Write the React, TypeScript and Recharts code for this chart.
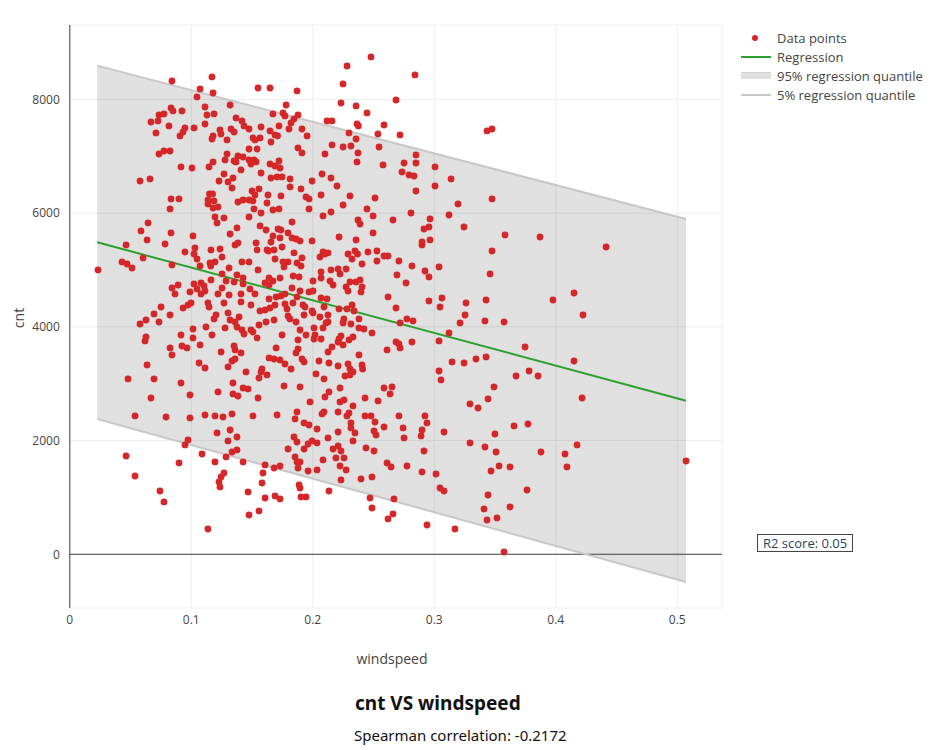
import React from "react";
import {
  ComposedChart,
  Scatter,
  Line,
  Area,
  XAxis,
  YAxis,
  CartesianGrid,
  ReferenceLine,
} from "recharts";

// [windspeed, cnt] pairs
const ptsLeft: [number, number][] = [
  [0.0734, 7727], [0.0775, 7745], [0.0668, 7604], [0.0726, 7622], [0.0709, 7411], [0.0734, 7041], [0.0775, 7094], [0.0578, 6566], [0.066, 6602], [0.0644, 5828],
  [0.0586, 5687], [0.0636, 5529], [0.0463, 5441], [0.0784, 5458], [0.0603, 5212], [0.043, 5142], [0.0471, 5106], [0.0512, 5036], [0.0232, 5001], [0.0751, 4350],
  [0.0693, 4227], [0.0825, 4209], [0.0578, 4051], [0.0627, 4121], [0.0734, 4086], [0.0627, 3822], [0.0619, 3752], [0.0825, 3629], [0.0636, 3330], [0.0479, 3084],
  [0.0693, 3084], [0.0668, 2749], [0.0537, 2433], [0.0792, 2415], [0.0463, 1729], [0.0537, 1377], [0.0742, 1113], [0.0775, 920],
];

const ptsMidLeftTop: [number, number][] = [
  [0.0841, 8325], [0.117, 8396], [0.1072, 8185], [0.1179, 8114], [0.1047, 8044], [0.1319, 7903], [0.1113, 7868], [0.0833, 7850], [0.0849, 7798], [0.0923, 7798],
  [0.1129, 7727], [0.1187, 7745], [0.1368, 7675], [0.1417, 7622], [0.1113, 7569], [0.0816, 7534], [0.0948, 7499], [0.1023, 7499], [0.1434, 7534], [0.1236, 7463],
  [0.1327, 7481], [0.1352, 7428], [0.0932, 7428], [0.0907, 7358], [0.1179, 7358], [0.117, 7305], [0.1244, 7393], [0.1294, 7288], [0.0825, 7094], [0.1294, 7041],
  [0.1384, 7006], [0.1426, 6988], [0.1278, 6936], [0.1352, 6918], [0.1368, 6901], [0.1179, 6901], [0.0915, 6813], [0.1006, 6795], [0.1146, 6813], [0.1409, 6760],
  [0.1269, 6689], [0.1228, 6566], [0.1302, 6549], [0.1343, 6619], [0.1335, 6443], [0.115, 6338], [0.1175, 6338], [0.1137, 6232], [0.1187, 6215], [0.1137, 6162],
  [0.1179, 6091], [0.122, 6109], [0.1384, 6197], [0.1426, 6232], [0.0833, 6250], [0.0899, 6250], [0.0825, 6074], [0.1195, 5933], [0.1269, 5916], [0.1212, 5828],
  [0.1376, 5740], [0.0833, 5652], [0.1014, 5599], [0.1319, 5634], [0.1384, 5476], [0.136, 5441], [0.0948, 5317], [0.103, 5388], [0.1022, 5282], [0.1162, 5353],
  [0.1236, 5370], [0.1047, 5194], [0.1253, 5229], [0.1072, 5071], [0.1154, 5124], [0.116, 5071], [0.1195, 5142], [0.1311, 5036], [0.1417, 5142], [0.0841, 5089],
  [0.1253, 4931], [0.1376, 4913], [0.1426, 4860], [0.1286, 4807], [0.1352, 4790], [0.0841, 4684], [0.0891, 4737], [0.0866, 4579], [0.1022, 4755], [0.108, 4772],
  [0.1105, 4719], [0.1113, 4631], [0.1047, 4667], [0.108, 4579], [0.0989, 4614], [0.1162, 4825], [0.122, 4579], [0.1253, 4684], [0.1311, 4561], [0.1409, 4579],
  [0.1426, 4755], [0.0998, 4420], [0.1137, 4420], [0.1269, 4420], [0.1409, 4438],
];

const ptsMidLeftBottom: [number, number][] = [
  [0.0932, 4332], [0.0973, 4385], [0.1146, 4350], [0.1203, 4209], [0.1187, 4139], [0.1302, 4245], [0.1393, 4174], [0.1319, 4121], [0.136, 4086], [0.1014, 3963],
  [0.1121, 3998], [0.1278, 3981], [0.1376, 3998], [0.1417, 3945], [0.1434, 3875], [0.0915, 3857], [0.1014, 3805], [0.117, 3857], [0.0841, 3506], [0.0923, 3664],
  [0.0965, 3629], [0.1072, 3682], [0.1245, 3558], [0.1352, 3664], [0.136, 3594], [0.1409, 3541], [0.1064, 3365], [0.1113, 3277], [0.1302, 3295], [0.1335, 3400],
  [0.136, 3435], [0.145, 3207], [0.0915, 3013], [0.0989, 2802], [0.122, 2855], [0.1343, 3013], [0.1426, 2925], [0.1343, 2820], [0.1384, 2784], [0.0989, 2398],
  [0.1113, 2450], [0.1195, 2433], [0.1261, 2415], [0.1335, 2468], [0.1319, 2186], [0.1212, 2134], [0.1376, 2063], [0.1302, 1993], [0.0973, 2011], [0.0948, 1923],
  [0.1335, 1799], [0.1376, 1835], [0.1286, 1712], [0.1088, 1764], [0.0899, 1606], [0.1195, 1624], [0.1426, 1624], [0.1269, 1430], [0.1245, 1360], [0.1228, 1272],
  [0.1236, 1184], [0.1137, 445],
];

const ptsCenterTop: [number, number][] = [
  [0.1549, 8202], [0.1648, 8202], [0.187, 8150], [0.178, 7903], [0.1672, 7745], [0.1755, 7763], [0.1771, 7710], [0.1878, 7727], [0.1845, 7657], [0.1821, 7587],
  [0.2117, 7622], [0.1722, 7534], [0.1574, 7516], [0.1648, 7446], [0.1804, 7481], [0.1911, 7481], [0.1475, 7481], [0.1689, 7376], [0.171, 7360], [0.1508, 7323],
  [0.1566, 7323], [0.1524, 7288], [0.1953, 7358], [0.1656, 7252], [0.1475, 7129], [0.1541, 7129], [0.1878, 7147], [0.1911, 7059], [0.21, 7041], [0.1475, 6936],
  [0.1516, 6936], [0.1533, 6901], [0.1491, 6865], [0.1722, 6918], [0.1648, 6865], [0.1689, 6830], [0.173, 6795], [0.1574, 6707], [0.2076, 6689], [0.1656, 6619],
  [0.1706, 6637], [0.1747, 6637], [0.1813, 6602], [0.1994, 6566], [0.1813, 6461], [0.1903, 6426], [0.1557, 6426], [0.15, 6390], [0.1524, 6320], [0.1631, 6320],
  [0.1738, 6303], [0.1944, 6285], [0.1969, 6250], [0.2068, 6320], [0.1475, 6232], [0.1508, 6215], [0.1623, 6179], [0.1672, 6056], [0.1722, 6074], [0.1969, 6074],
  [0.1516, 6074], [0.1574, 6003], [0.1475, 5933], [0.2084, 5951], [0.1829, 5845], [0.1566, 5775], [0.1615, 5704], [0.1714, 5722], [0.1738, 5704], [0.1796, 5652],
  [0.1672, 5599], [0.173, 5564], [0.1829, 5564], [0.1862, 5546], [0.1895, 5511], [0.1994, 5511], [0.1656, 5493], [0.1533, 5476], [0.1747, 5405], [0.1541, 5353],
  [0.1623, 5353], [0.1681, 5353], [0.1635, 5335], [0.1845, 5300], [0.2084, 5317], [0.21, 5282], [0.2059, 5229], [0.1689, 5194], [0.1911, 5212], [0.1475, 5142],
  [0.1755, 5142], [0.1796, 5142], [0.187, 5124], [0.1903, 5071], [0.1763, 5054], [0.1549, 5001], [0.2068, 4966], [0.1838, 4895], [0.1887, 4878], [0.173, 4860],
  [0.164, 4860], [0.1672, 4807], [0.2068, 4860], [0.2002, 4807], [0.1607, 4772], [0.164, 4737], [0.1483, 4667], [0.1524, 4579], [0.1829, 4684], [0.1895, 4631],
  [0.1969, 4614], [0.2002, 4631], [0.1698, 4526], [0.1738, 4544], [0.1771, 4579], [0.187, 4526], [0.164, 4491], [0.2068, 4508], [0.2117, 4491],
];

const ptsCenterBottom: [number, number][] = [
  [0.1491, 4385], [0.1565, 4280], [0.1607, 4297], [0.1648, 4332], [0.1689, 4385], [0.1771, 4403], [0.1788, 4315], [0.1837, 4420], [0.1919, 4385], [0.1936, 4350],
  [0.2002, 4245], [0.1994, 4280], [0.2092, 4350], [0.1796, 4192], [0.1812, 4139], [0.1862, 4086], [0.1928, 4209], [0.2059, 4174], [0.2109, 4069], [0.1557, 4033],
  [0.1615, 4086], [0.1681, 4121], [0.1491, 3945], [0.1508, 3910], [0.1541, 3805], [0.1747, 3857], [0.1895, 3945], [0.1944, 3857], [0.201, 3981], [0.2018, 3857],
  [0.201, 3787], [0.2068, 3787], [0.2084, 3981], [0.1878, 3770], [0.1698, 3629], [0.1878, 3611], [0.1862, 3541], [0.164, 3453], [0.1681, 3435], [0.173, 3418],
  [0.1771, 3347], [0.1821, 3259], [0.1911, 3435], [0.1928, 3383], [0.2051, 3400], [0.1582, 3259], [0.1574, 3207], [0.1623, 3154], [0.1557, 3101], [0.2026, 3172],
  [0.2092, 3084], [0.1467, 2908], [0.1763, 2960], [0.1895, 2943], [0.21, 2767], [0.1549, 2749], [0.1977, 2679], [0.1508, 2433], [0.1706, 2450], [0.187, 2503],
  [0.1854, 2380], [0.2092, 2503], [0.2076, 2468], [0.1928, 2310], [0.1969, 2274], [0.2035, 2204], [0.1845, 2063], [0.187, 1975], [0.1796, 1852], [0.1928, 1852],
  [0.1961, 1940], [0.1994, 1993], [0.2035, 1958], [0.1854, 1712], [0.187, 1624], [0.1895, 1624], [0.1878, 1518], [0.1961, 1465], [0.2035, 1483], [0.2084, 1659],
  [0.1607, 1571], [0.1681, 1518], [0.173, 1553], [0.159, 1430], [0.1582, 1254], [0.1887, 1219], [0.1895, 1166], [0.1903, 1008], [0.1944, 1008], [0.1607, 990],
  [0.1689, 1026], [0.173, 973], [0.1467, 1096], [0.1557, 762], [0.1475, 691],
];

const ptsMidRightTop: [number, number][] = [
  [0.2479, 8748], [0.2282, 8589], [0.2249, 8273], [0.2232, 7938], [0.2356, 7886], [0.2446, 7763], [0.2685, 7991], [0.2158, 7622], [0.2364, 7569], [0.2375, 7534],
  [0.2586, 7551], [0.2298, 7411], [0.2536, 7393], [0.2718, 7376], [0.2356, 7305], [0.2158, 7200], [0.2249, 7164], [0.2314, 7182], [0.2545, 7164], [0.2372, 7059],
  [0.2364, 6901], [0.2578, 6848], [0.2751, 6883], [0.2734, 6725], [0.215, 6619], [0.2199, 6478], [0.2306, 6303], [0.2512, 6267], [0.2249, 6144], [0.2446, 6074],
  [0.215, 6021], [0.2372, 5880], [0.2389, 5810], [0.2496, 5951], [0.266, 5880], [0.2496, 5652], [0.2216, 5581], [0.2356, 5529], [0.2125, 5300], [0.229, 5282],
  [0.2347, 5335], [0.2368, 5282], [0.2454, 5317], [0.2528, 5335], [0.2323, 5194], [0.2405, 5106], [0.2528, 5159], [0.2586, 5247], [0.2619, 5247], [0.2709, 5159],
  [0.215, 5001], [0.2208, 5018], [0.2224, 4931], [0.2274, 5018], [0.2693, 4913], [0.2142, 4807], [0.2167, 4737], [0.2306, 4790], [0.2356, 4790], [0.2389, 4825],
  [0.2405, 4702], [0.2274, 4702], [0.229, 4631], [0.2397, 4614], [0.2767, 4772], [0.2619, 4526], [0.2841, 8431],
];

const ptsMidRightBottom: [number, number][] = [
  [0.2216, 4315], [0.2281, 4315], [0.2323, 4385], [0.2339, 4280], [0.2685, 4332], [0.2125, 4209], [0.2256, 4139], [0.2249, 4069], [0.2314, 4051], [0.238, 4139],
  [0.238, 3981], [0.2421, 3963], [0.2487, 3893], [0.2718, 4069], [0.2775, 4139], [0.2125, 4086], [0.2232, 3840], [0.2216, 3787], [0.2208, 3734], [0.2249, 3682],
  [0.2298, 3770], [0.2331, 3822], [0.2158, 3646], [0.2125, 3558], [0.238, 3506], [0.2611, 3594], [0.2685, 3734], [0.2709, 3699], [0.2718, 3629], [0.2133, 3365],
  [0.2208, 3312], [0.229, 3347], [0.2306, 3259], [0.2331, 3207], [0.2405, 3330], [0.241, 3259], [0.2265, 3136], [0.2306, 3154], [0.2224, 2925], [0.2586, 2925],
  [0.2652, 2943], [0.2636, 2820], [0.2133, 2855], [0.2257, 2714], [0.2224, 2679], [0.243, 2749], [0.2537, 2697], [0.2331, 2609], [0.2208, 2503], [0.2298, 2485],
  [0.2281, 2433], [0.243, 2433], [0.2479, 2433], [0.2709, 2433], [0.2314, 2310], [0.2512, 2327], [0.2314, 2222], [0.2347, 2134], [0.2208, 2151], [0.2504, 2169],
  [0.252, 2098], [0.2586, 2239], [0.2743, 2222], [0.2125, 2046], [0.2751, 2046], [0.2331, 1993], [0.2208, 1905], [0.2167, 1852], [0.2232, 1817], [0.2438, 1870],
  [0.2504, 1817], [0.219, 1694], [0.2257, 1694], [0.2224, 1553], [0.2274, 1483], [0.2611, 1606], [0.2644, 1536], [0.2775, 1553], [0.2232, 1307], [0.2397, 1325],
  [0.2487, 1360], [0.2133, 1113], [0.2471, 990], [0.2487, 814], [0.2668, 973], [0.266, 709], [0.2619, 621],
];

const ptsRight: [number, number][] = [
  [0.3434, 7446], [0.3475, 7481], [0.2849, 7024], [0.2849, 6883], [0.3006, 6813], [0.2792, 6672], [0.2833, 6654], [0.3138, 6602], [0.3006, 6478], [0.2849, 6390],
  [0.3475, 6250], [0.3195, 6162], [0.2808, 6003], [0.3121, 5968], [0.2965, 5898], [0.2915, 5722], [0.2956, 5757], [0.3244, 5757], [0.3582, 5617], [0.2899, 5493],
  [0.2899, 5441], [0.2965, 5529], [0.3475, 5335], [0.2816, 5071], [0.2923, 4983], [0.2956, 4878], [0.3039, 5054], [0.3459, 4931], [0.2956, 4456], [0.3063, 4508],
  [0.3261, 4420], [0.3426, 4473], [0.3047, 4350], [0.2825, 4104], [0.3253, 4209], [0.3212, 4069], [0.3417, 4104], [0.3574, 4086], [0.3121, 3893], [0.2816, 3734],
  [0.3039, 3752], [0.3146, 3383], [0.3245, 3365], [0.3343, 3435], [0.3426, 3471], [0.3039, 3224], [0.3055, 3066], [0.3673, 3136], [0.3491, 2943], [0.3294, 2644],
  [0.336, 2573], [0.3442, 2732], [0.2923, 2433], [0.294, 2310], [0.2899, 2186], [0.2891, 2081], [0.308, 2151], [0.3656, 2257], [0.3499, 2116], [0.3294, 1958],
  [0.3417, 1887], [0.3508, 1799], [0.2915, 1817], [0.2899, 1448], [0.3014, 1412], [0.3467, 1465], [0.3533, 1553], [0.3623, 1536], [0.3047, 1166], [0.308, 1113],
  [0.3442, 1043], [0.3409, 797], [0.3623, 832], [0.3434, 603], [0.3516, 639], [0.294, 515], [0.317, 445], [0.3574, 40],
];

const ptsFarRight: [number, number][] = [
  [0.387, 5581], [0.4414, 5405], [0.3977, 4473], [0.415, 4596], [0.4224, 4209], [0.3747, 3646], [0.415, 3400], [0.378, 3224], [0.3854, 3136], [0.4216, 2749],
  [0.3771, 2292], [0.3878, 1799], [0.4076, 1764], [0.4175, 1923], [0.4092, 1536], [0.5072, 1641], [0.3763, 1131],
];

// Regression line and quantile band, at the smallest and largest windspeed
const fitWindspeed = [0.0226, 0.5072];
const fitRegression = [5488, 2702];
const fitQ95 = [8595, 5898];
const fitQ05 = [2380, -487];

const xTicks = [0, 0.1, 0.2, 0.3, 0.4, 0.5];
const yTicks = [0, 2000, 4000, 6000, 8000];

const legendItems = ["Data points", "Regression", "95% regression quantile", "5% regression quantile"];

const allPoints = [
  ...ptsLeft,
  ...ptsMidLeftTop,
  ...ptsMidLeftBottom,
  ...ptsCenterTop,
  ...ptsCenterBottom,
  ...ptsMidRightTop,
  ...ptsMidRightBottom,
  ...ptsRight,
  ...ptsFarRight,
].map(([x, y]) => ({ x, y }));

const lineData = fitWindspeed.map((x, i) => ({
  x,
  reg: fitRegression[i],
  hi: fitQ95[i],
  lo: fitQ05[i],
  band: [fitQ05[i], fitQ95[i]],
}));

const FONT = "'Open Sans', verdana, arial, sans-serif";
const RED = "#d62728";

const Dot = (props: any) => {
  const { cx, cy } = props;
  if (cx == null || cy == null) return null;
  return <circle cx={cx} cy={cy} r={3.4} fill={RED} />;
};

export default function App() {
  return (
    <div
      style={{
        position: "fixed",
        left: 0,
        top: 0,
        width: 948,
        height: 750,
        background: "#fff",
        overflow: "hidden",
        fontFamily: FONT,
      }}
    >
      <ComposedChart
        width={948}
        height={750}
        data={lineData}
        margin={{ top: 25, right: 226, bottom: 0, left: 0 }}
      >
        <CartesianGrid stroke="#eee" strokeWidth={1} />
        <XAxis
          type="number"
          dataKey="x"
          domain={[0, 0.5368]}
          ticks={xTicks}
          allowDataOverflow
          height={142}
          axisLine={false}
          tickLine={false}
          tickMargin={1}
          tick={{ fill: "#444", fontSize: 12, fontFamily: FONT }}
          tickFormatter={(v: number) => String(v)}
        />
        <YAxis
          type="number"
          domain={[-945, 9310]}
          ticks={yTicks}
          allowDataOverflow
          width={69.8}
          axisLine={false}
          tickLine={false}
          tickMargin={4}
          tick={{ fill: "#444", fontSize: 12, fontFamily: FONT }}
        />
        <Area
          dataKey="band"
          type="linear"
          stroke="none"
          fill="#000"
          fillOpacity={0.12}
          isAnimationActive={false}
          activeDot={false}
        />
        <ReferenceLine y={0} stroke="#444" strokeWidth={1} />
        <ReferenceLine x={0} stroke="#444" strokeWidth={1} />
        <Scatter data={allPoints} dataKey="y" shape={Dot} isAnimationActive={false} />
        <Line dataKey="reg" type="linear" stroke="#2ca02c" strokeWidth={2} dot={false} activeDot={false} isAnimationActive={false} />
        <Line dataKey="hi" type="linear" stroke="#c8c8c8" strokeWidth={2} dot={false} activeDot={false} isAnimationActive={false} />
        <Line dataKey="lo" type="linear" stroke="#c8c8c8" strokeWidth={2} dot={false} activeDot={false} isAnimationActive={false} />
      </ComposedChart>

      {/* legend */}
      <div style={{ position: "absolute", left: 741, top: 29, fontSize: 13, color: "#444", fontFamily: FONT }}>
        {legendItems.map((label, i) => (
          <div key={label} style={{ position: "absolute", left: 0, top: i * 19, height: 19, width: 200, whiteSpace: "nowrap" }}>
            <div style={{ position: "absolute", left: 0, top: 0, width: 30, height: 19 }}>
              {i === 0 && (
                <div style={{ position: "absolute", left: 11, top: 6, width: 6, height: 6, borderRadius: 3, background: RED }} />
              )}
              {i === 1 && (
                <div style={{ position: "absolute", left: 0, top: 8, width: 30, height: 2, background: "#2ca02c" }} />
              )}
              {i === 2 && (
                <div style={{ position: "absolute", left: 0, top: 5, width: 30, height: 6, background: "#e0e0e0", borderTop: "1px solid #d0d0d0" }} />
              )}
              {i === 3 && (
                <div style={{ position: "absolute", left: 0, top: 8, width: 30, height: 2, background: "#c8c8c8" }} />
              )}
            </div>
            <span style={{ position: "absolute", left: 36, top: 0, lineHeight: "18px" }}>{label}</span>
          </div>
        ))}
      </div>

      {/* R2 annotation */}
      <div
        style={{
          position: "absolute",
          left: 757,
          top: 534,
          height: 16,
          padding: "0 5px",
          border: "1px solid #444",
          fontSize: 13,
          lineHeight: "16px",
          color: "#2a3f5f",
          background: "#fff",
          whiteSpace: "nowrap",
        }}
      >
        R2 score: 0.05
      </div>

      {/* axis titles */}
      <div style={{ position: "absolute", left: 292, width: 200, top: 649, textAlign: "center", fontSize: 14, color: "#444" }}>
        windspeed
      </div>
      <div
        style={{
          position: "absolute",
          left: 18,
          top: 318,
          transform: "translate(-50%, -50%) rotate(-90deg)",
          fontSize: 14,
          color: "#444",
          whiteSpace: "nowrap",
        }}
      >
        cnt
      </div>

      {/* title and subtitle */}
      <div
        style={{
          position: "absolute",
          left: 355,
          top: 690,
          fontSize: 19,
          fontWeight: 700,
          color: "#111",
          fontFamily: "'Noto Sans', Roboto, sans-serif",
          whiteSpace: "nowrap",
          lineHeight: "26px",
        }}
      >
        cnt VS windspeed
      </div>
      <div
        style={{
          position: "absolute",
          left: 354,
          top: 723,
          fontSize: 15,
          color: "#111",
          fontFamily: "'Noto Sans', Roboto, sans-serif",
          whiteSpace: "nowrap",
          lineHeight: "24px",
        }}
      >
        Spearman correlation: -0.2172
      </div>
    </div>
  );
}
